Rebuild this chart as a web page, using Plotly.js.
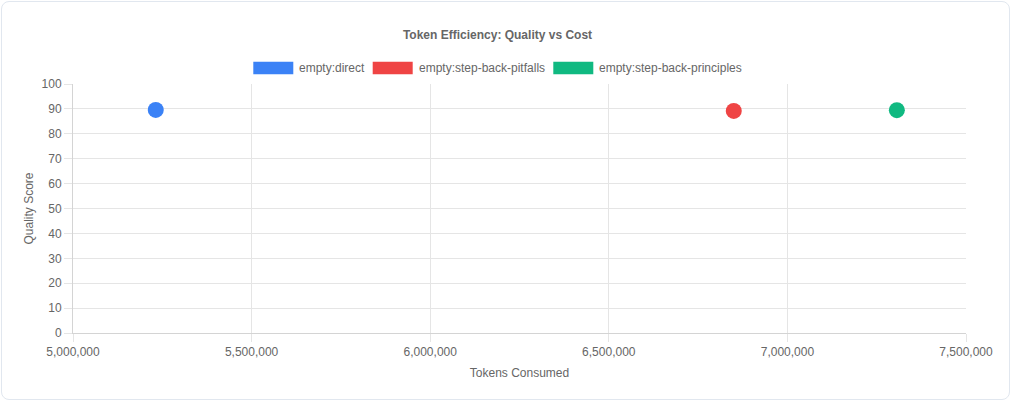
<!DOCTYPE html>
<html>
<head>
<meta charset="utf-8">
<script src="https://cdn.plot.ly/plotly-3.0.1.min.js"></script>
<style>
  html, body { margin: 0; padding: 0; background: #ffffff; }
  .card {
    position: absolute; left: 1px; top: 1px; width: 1007px; height: 397px;
    border: 1px solid #e1e7ef; border-radius: 8px; background: #fff;
  }
  #chart { position: absolute; left: 0; top: 0; width: 1012px; height: 401px; }
</style>
</head>
<body>
<div class="card"></div>
<div id="chart"></div>
<script>
// series, one point each
const seriesNames = ['empty:direct', 'empty:step-back-pitfalls', 'empty:step-back-principles'];
const tokensUsed = [5231700, 6849900, 7306400];
const qualityScore = [89.6, 89.2, 89.5];
const seriesColors = ['#3b82f6', '#ef4444', '#10b981'];

const W = 1012, H = 401;
const m = { l: 73, r: 46, t: 84, b: 68 };
const plotW = W - m.l - m.r, plotH = H - m.t - m.b;
const px = x => (x - m.l) / plotW;
const py = y => (H - m.b - y) / plotH;

const traces = seriesNames.map((name, i) => ({
    type: 'scatter',
    mode: 'markers',
    name: name,
    x: [tokensUsed[i]],
    y: [qualityScore[i]],
    marker: { color: seriesColors[i], size: 16, line: { width: 0 } },
    cliponaxis: false,
}));

// legend drawn by hand: wide colour boxes like the original
const legendX = [253.3, 372.7, 553.3];
const shapes = [], annotations = [];
seriesNames.forEach((name, i) => {
    shapes.push({
        type: 'rect', xref: 'paper', yref: 'paper',
        x0: px(legendX[i]), x1: px(legendX[i] + 40),
        y0: py(74.3), y1: py(61.7),
        fillcolor: seriesColors[i], line: { width: 0 },
    });
    annotations.push({
        xref: 'paper', yref: 'paper', x: px(legendX[i] + 44), y: py(68),
        xanchor: 'left', yanchor: 'middle', showarrow: false,
        text: name, font: { size: 12, color: '#666' },
    });
});

const layout = {
    width: W, height: H,
    margin: m,
    paper_bgcolor: 'rgba(0,0,0,0)',
    plot_bgcolor: 'rgba(0,0,0,0)',
    font: { family: '"Liberation Sans", Arial, sans-serif', size: 12, color: '#666' },
    showlegend: false,
    title: {
        text: '<b>Token Efficiency: Quality vs Cost</b>',
        xref: 'container', yref: 'container',
        x: 497.5 / W, y: 1 - 35 / H, xanchor: 'center', yanchor: 'middle',
        font: { size: 12, color: '#666' },
    },
    xaxis: {
        range: [5000000, 7500000], dtick: 500000, tick0: 5000000,
        tickformat: ',d',
        showgrid: true, gridcolor: '#e5e5e5', gridwidth: 1,
        zeroline: false,
        showline: true, linecolor: '#d4d4d4', linewidth: 1,
        ticks: 'outside', ticklen: 8, tickcolor: '#e5e5e5',
        title: { text: 'Tokens Consumed', standoff: 10, font: { size: 12, color: '#666' } },
    },
    yaxis: {
        range: [0, 100], dtick: 10,
        showgrid: true, gridcolor: '#e5e5e5', gridwidth: 1,
        zeroline: false,
        showline: true, linecolor: '#d4d4d4', linewidth: 1,
        ticks: 'outside', ticklen: 8, tickcolor: '#e5e5e5',
        title: { text: 'Quality Score', standoff: 5, font: { size: 12, color: '#666' } },
    },
    shapes: shapes,
    annotations: annotations,
};

Plotly.newPlot('chart', traces, layout, { displayModeBar: false, staticPlot: true });
</script>
</body>
</html>
